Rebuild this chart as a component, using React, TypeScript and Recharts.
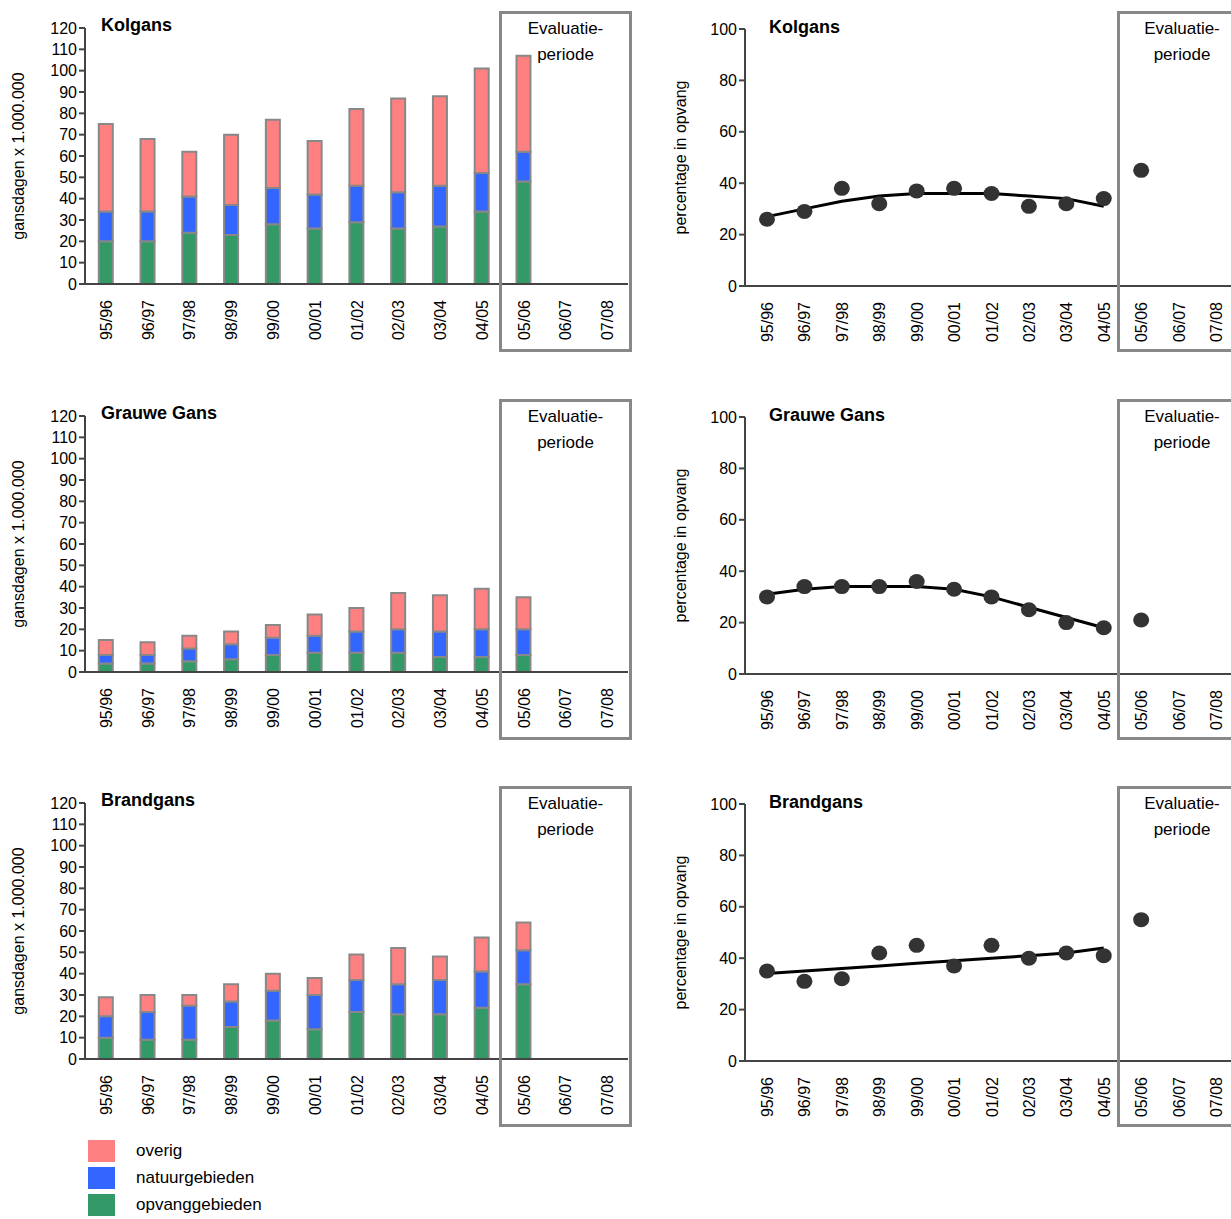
import React from "react";
import { ComposedChart, Bar, Line, Scatter, XAxis, YAxis } from "recharts";

const seasons = ["95/96", "96/97", "97/98", "98/99", "99/00", "00/01", "01/02", "02/03", "03/04", "04/05", "05/06", "06/07", "07/08"];

// cumulative levels: green top, blue top, total
const kolGreen = [20, 20, 24, 23, 28, 26, 29, 26, 27, 34, 48];
const kolBlue = [34, 34, 41, 37, 45, 42, 46, 43, 46, 52, 62];
const kolTotal = [75, 68, 62, 70, 77, 67, 82, 87, 88, 101, 107];

const grGreen = [4, 4, 5, 6, 8, 9, 9, 9, 7, 7, 8];
const grBlue = [8, 8, 11, 13, 16, 17, 19, 20, 19, 20, 20];
const grTotal = [15, 14, 17, 19, 22, 27, 30, 37, 36, 39, 35];

const brGreen = [10, 9, 9, 15, 18, 14, 22, 21, 21, 24, 35];
const brBlue = [20, 22, 25, 27, 32, 30, 37, 35, 37, 41, 51];
const brTotal = [29, 30, 30, 35, 40, 38, 49, 52, 48, 57, 64];

const kolPct = [26, 29, 38, 32, 37, 38, 36, 31, 32, 34, 45];
const kolTrend = [27, 30, 33, 35, 36, 36, 36, 35, 34, 31];
const grPct = [30, 34, 34, 34, 36, 33, 30, 25, 20, 18, 21];
const grTrend = [31, 33, 34, 34, 34, 33, 30, 26, 22, 18];
const brPct = [35, 31, 32, 42, 45, 37, 45, 40, 42, 41, 55];
const brTrend = [34, 35, 36, 37, 38, 39, 40, 41, 42, 44];

const barTicks = [0, 10, 20, 30, 40, 50, 60, 70, 80, 90, 100, 110, 120];
const pctTicks = [0, 20, 40, 60, 80, 100];

const PINK = "#ff8080";
const BLUE = "#3366ff";
const GREEN = "#339966";
const FONT = "Arial, 'Liberation Sans', sans-serif";

function barRows(g: number[], b: number[], t: number[]) {
  return seasons.map((s, i) => ({
    season: s,
    green: g[i],
    blue: b[i] !== undefined ? b[i] - g[i] : undefined,
    pink: t[i] !== undefined ? t[i] - b[i] : undefined,
  }));
}

function pctRows(p: number[], tr: number[]) {
  return seasons.map((s, i) => ({ season: s, pct: p[i], trend: tr[i] }));
}

const RotTick = (props: any) => {
  const { x, y, payload } = props;
  return (
    <text x={x + 6} y={y + 8} transform={`rotate(-90, ${x + 6}, ${y + 8})`} textAnchor="end" fontSize={16} fontFamily={FONT} fill="#000">
      {payload.value}
    </text>
  );
};

const Dot = (props: any) => {
  if (props.payload?.pct == null) return <g />;
  return <ellipse cx={props.cx} cy={props.cy} rx={8} ry={7.5} fill="#333" />;
};

function EvalBox({ left, top, width }: { left: number; top: number; width: number }) {
  return (
    <div style={{ position: "absolute", left, top, width, height: 341, border: "3px solid #888", boxSizing: "border-box", fontFamily: FONT, fontSize: 17, textAlign: "center", lineHeight: "26px", paddingTop: 2 }}>
      Evaluatie-<br />periode
    </div>
  );
}

function BarPanel({ top, title, g, b, t }: { top: number; title: string; g: number[]; b: number[]; t: number[] }) {
  return (
    <>
      <div style={{ position: "absolute", left: 0, top }}>
        <ComposedChart width={640} height={370} data={barRows(g, b, t)} margin={{ top: 28, right: 12, left: 0, bottom: 0 }} barCategoryGap="33%">
          <XAxis dataKey="season" height={86} tick={<RotTick />} tickLine={false} interval={0} stroke="#444" strokeWidth={2} />
          <YAxis width={85} domain={[0, 120]} ticks={barTicks} interval={0} tick={{ fontSize: 16, fill: "#000", fontFamily: FONT }} stroke="#444" strokeWidth={2}
            label={{ value: "gansdagen x 1.000.000", angle: -90, position: "insideLeft", offset: 18, style: { fontSize: 16, fill: "#000", fontFamily: FONT, textAnchor: "middle" } }} />
          <Bar dataKey="green" stackId="a" fill={GREEN} stroke="#888" strokeWidth={2} isAnimationActive={false} />
          <Bar dataKey="blue" stackId="a" fill={BLUE} stroke="#888" strokeWidth={2} isAnimationActive={false} />
          <Bar dataKey="pink" stackId="a" fill={PINK} stroke="#888" strokeWidth={2} isAnimationActive={false} />
        </ComposedChart>
      </div>
      <div style={{ position: "absolute", left: 101, top: top + 15, fontFamily: FONT, fontWeight: "bold", fontSize: 18 }}>{title}</div>
      <EvalBox left={499} top={top + 11} width={133} />
    </>
  );
}

function PctPanel({ top, title, p, tr }: { top: number; title: string; p: number[]; tr: number[] }) {
  return (
    <>
      <div style={{ position: "absolute", left: 660, top }}>
        <ComposedChart width={590} height={370} data={pctRows(p, tr)} margin={{ top: 29, right: 15, left: 0, bottom: 0 }}>
          <XAxis dataKey="season" height={84} tick={<RotTick />} tickLine={false} interval={0} padding={{ left: 22, right: 19 }} stroke="#444" strokeWidth={2} />
          <YAxis width={85} domain={[0, 100]} ticks={pctTicks} interval={0} tick={{ fontSize: 16, fill: "#000", fontFamily: FONT }} stroke="#444" strokeWidth={2}
            label={{ value: "percentage in opvang", angle: -90, position: "insideLeft", offset: 20, style: { fontSize: 16, fill: "#000", fontFamily: FONT, textAnchor: "middle" } }} />
          <Scatter dataKey="pct" fill="#333" shape={<Dot />} isAnimationActive={false} />
          <Line dataKey="trend" stroke="#000" strokeWidth={3} dot={false} connectNulls={false} isAnimationActive={false} />
        </ComposedChart>
      </div>
      <div style={{ position: "absolute", left: 769, top: top + 17, fontFamily: FONT, fontWeight: "bold", fontSize: 18 }}>{title}</div>
      <EvalBox left={1117} top={top + 11} width={130} />
    </>
  );
}

const legendItems = [
  { label: "overig", color: PINK },
  { label: "natuurgebieden", color: BLUE },
  { label: "opvanggebieden", color: GREEN },
];

export default function App() {
  return (
    <div style={{ position: "absolute", left: 0, top: 0, width: 1231, height: 1219, overflow: "hidden", background: "#fff" }}>
      <BarPanel top={0} title="Kolgans" g={kolGreen} b={kolBlue} t={kolTotal} />
      <BarPanel top={388} title="Grauwe Gans" g={grGreen} b={grBlue} t={grTotal} />
      <BarPanel top={775} title="Brandgans" g={brGreen} b={brBlue} t={brTotal} />
      <PctPanel top={0} title="Kolgans" p={kolPct} tr={kolTrend} />
      <PctPanel top={388} title="Grauwe Gans" p={grPct} tr={grTrend} />
      <PctPanel top={775} title="Brandgans" p={brPct} tr={brTrend} />
      {legendItems.map((it, i) => (
        <div key={it.label} style={{ position: "absolute", left: 88, top: 1140 + i * 27, display: "flex", alignItems: "center", fontFamily: FONT, fontSize: 17 }}>
          <div style={{ width: 27, height: 22, background: it.color, marginRight: 21 }} />
          {it.label}
        </div>
      ))}
    </div>
  );
}
